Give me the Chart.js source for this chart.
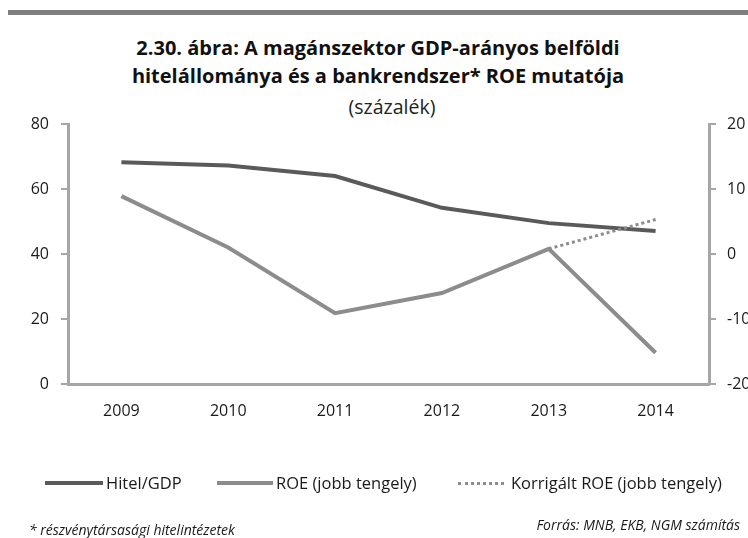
<!DOCTYPE html>
<html>
<head>
<meta charset="utf-8">
<script src="https://cdn.jsdelivr.net/npm/chart.js@4.4.1/dist/chart.umd.min.js"></script>
<style>
  html, body { margin: 0; padding: 0; background: #fff; }
  body { width: 748px; height: 538px; overflow: hidden; position: relative; font-family: "Open Sans", sans-serif; color: #1a1a1a; }
  #topbar { position: absolute; left: 8px; top: 10px; width: 740px; height: 5px; background: #7f7f7f; }
  #title { position: absolute; left: 0; top: 34px; width: 756px; text-align: center; font-weight: bold; font-size: 20px; line-height: 28px; color: #111; }
  #subtitle { position: absolute; left: 0; top: 95px; width: 784px; text-align: center; font-size: 19.5px; line-height: 24px; color: #222; }
  #chartwrap { position: absolute; left: 0; top: 0; width: 780px; height: 538px; }
  .lg { position: absolute; font-size: 16.5px; line-height: 22px; top: 472px; color: #1a1a1a; white-space: nowrap; }
  .ln { position: absolute; top: 481px; height: 4px; }
  .foot { position: absolute; font-style: italic; font-size: 14px; line-height: 18px; color: #1a1a1a; white-space: nowrap; }
</style>
</head>
<body>
<div id="topbar"></div>
<div id="title">2.30. ábra: A magánszektor GDP-arányos belföldi<br>hitelállománya és a bankrendszer* ROE mutatója</div>
<div id="subtitle">(százalék)</div>
<div id="chartwrap"><canvas id="c" width="780" height="538"></canvas></div>

<div class="ln" style="left:45px;width:58px;background:#5a5a5a;"></div>
<div class="lg" style="left:106px;">Hitel/GDP</div>
<div class="ln" style="left:217px;width:56px;background:#8c8c8c;"></div>
<div class="lg" style="left:276px;">ROE (jobb tengely)</div>
<div class="ln" style="left:458px;width:46px;height:0;border-top:3px dotted #8c8c8c;top:482px;"></div>
<div class="lg" style="left:511px;">Korrigált ROE (jobb tengely)</div>

<div class="foot" style="left:29px;top:521px;">* részvénytársasági hitelintézetek</div>
<div class="foot" style="right:8px;top:516px;">Forrás: MNB, EKB, NGM számítás</div>

<script>
const years = ['2009', '2010', '2011', '2012', '2013', '2014'];
const hitelGdp = [68.2, 67.2, 64.0, 54.2, 49.5, 47.1];
const roe = [8.9, 1.0, -9.1, -6.0, 0.8, -15.2];
const korrigaltRoe = [null, null, null, null, 0.8, 5.3];
const leftAxisRange = [0, 80, 20];
const rightAxisRange = [-20, 20, 10];
const seriesNames = ['Hitel/GDP', 'ROE (jobb tengely)', 'Korrigált ROE (jobb tengely)'];

const axisColor = '#a6a6a6';
const tickFont = { family: 'Open Sans', size: 16 };

new Chart(document.getElementById('c'), {
  type: 'line',
  data: {
    labels: years,
    datasets: [
      { label: seriesNames[0], data: hitelGdp, yAxisID: 'y', borderColor: '#5a5a5a', borderWidth: 4, pointRadius: 0, tension: 0, order: 1 },
      { label: seriesNames[1], data: roe, yAxisID: 'y1', borderColor: '#8c8c8c', borderWidth: 4, pointRadius: 0, tension: 0, order: 2 },
      { label: seriesNames[2], data: korrigaltRoe, yAxisID: 'y1', borderColor: '#8c8c8c', borderWidth: 3, borderDash: [3, 3], pointRadius: 0, tension: 0, order: 0, spanGaps: false }
    ]
  },
  options: {
    responsive: false,
    devicePixelRatio: 1,
    animation: false,
    layout: { padding: { top: 124, bottom: 114, left: 0, right: 0 } },
    plugins: { legend: { display: false }, tooltip: { enabled: false }, title: { display: false } },
    scales: {
      x: {
        type: 'category',
        offset: true,
        grid: { display: false, drawTicks: false, tickLength: 0 },
        border: { display: true, color: axisColor, width: 3 },
        ticks: { font: tickFont, color: '#1a1a1a', padding: 18, maxRotation: 0 },
        afterFit: (s) => { s.height = 40; }
      },
      y: {
        position: 'left',
        min: leftAxisRange[0], max: leftAxisRange[1],
        ticks: { stepSize: leftAxisRange[2], font: tickFont, color: '#1a1a1a', padding: 12 },
        grid: { display: true, drawOnChartArea: false, drawTicks: true, tickLength: 7, color: axisColor, lineWidth: 2 },
        border: { display: true, color: axisColor, width: 3 },
        afterFit: (s) => { s.width = 68; }
      },
      y1: {
        position: 'right',
        min: rightAxisRange[0], max: rightAxisRange[1],
        ticks: { stepSize: rightAxisRange[2], font: tickFont, color: '#1a1a1a', padding: 11 },
        grid: { display: true, drawOnChartArea: false, drawTicks: true, tickLength: 7, color: axisColor, lineWidth: 2 },
        border: { display: true, color: axisColor, width: 3 },
        afterFit: (s) => { s.width = 71; }
      }
    }
  }
});
</script>
</body>
</html>
